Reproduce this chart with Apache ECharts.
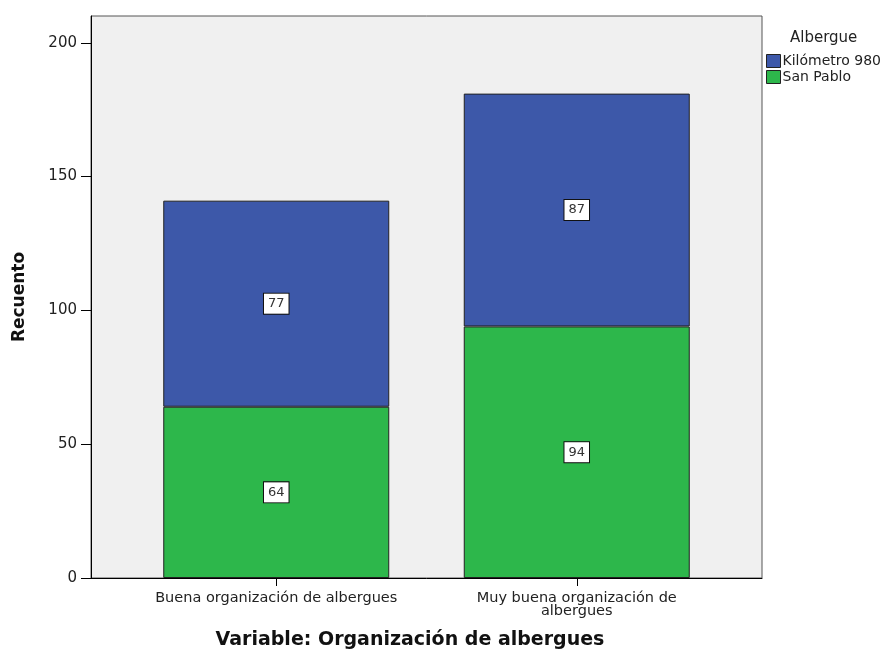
<!DOCTYPE html>
<html>
<head>
<meta charset="utf-8">
<script src="https://cdn.jsdelivr.net/npm/echarts@6/dist/echarts.min.js"></script>
<style>html,body{margin:0;padding:0;background:#fff;}#c{width:895px;height:650px;}</style>
</head>
<body>
<div id="c"></div>
<script>
var categories = ['Buena organización de albergues', 'Muy buena organización de\nalbergues'];
var seriesNames = ['Kilómetro 980', 'San Pablo'];
var sanPablo = [64, 94];
var kilometro = [77, 87];
var yTicks = [0, 50, 100, 150, 200];

var chart = echarts.init(document.getElementById('c'));
var font = 'DejaVu Sans, Verdana, sans-serif';
var labelStyle = {
  show: true, position: 'inside', backgroundColor: '#fff', borderColor: '#111', borderWidth: 1,
  padding: [4, 4, 3, 4], color: '#333', fontSize: 13, fontFamily: font
};
chart.setOption({
  animation: false,
  title: { text: 'Albergue', left: 785, top: 26, textStyle: { fontSize: 15, fontWeight: 'normal', color: '#222', fontFamily: font } },
  legend: {
    orient: 'vertical', left: 761, top: 49, itemWidth: 14, itemHeight: 13, itemGap: 2, icon: 'rect',
    data: seriesNames, textStyle: { fontSize: 14, color: '#222', fontFamily: font, padding: [0, 0, 0, -3] },
    itemStyle: { borderColor: '#222', borderWidth: 1 }
  },
  grid: [
    { left: 91, top: 16, width: 671, height: 562, show: true, backgroundColor: '#f0f0f0', borderColor: '#555', borderWidth: 1, outerBoundsMode: 'none', containLabel: false },
    { left: 126, top: 16, width: 601, height: 562, outerBoundsMode: 'none', containLabel: false }
  ],
  xAxis: [
    { gridIndex: 0, type: 'category', data: [''], axisLine: { lineStyle: { color: '#000' } }, axisTick: { show: false }, axisLabel: { show: false } },
    { gridIndex: 1, type: 'category', data: categories, axisLine: { show: false },
      axisTick: { show: true, interval: 0, alignWithLabel: true, length: 8, lineStyle: { color: '#000' } },
      axisLabel: { interval: 0, hideOverlap: false, fontSize: 14.5, color: '#222', fontFamily: font, margin: 14, lineHeight: 13 } }
  ],
  yAxis: [
    { gridIndex: 0, type: 'value', min: 0, max: 210, interval: 50,
      axisLine: { show: true, lineStyle: { color: '#000' } },
      axisTick: { show: true, length: 10, lineStyle: { color: '#000' } },
      axisLabel: { fontSize: 15, color: '#222', fontFamily: font, margin: 14, showMaxLabel: false,
        formatter: function (v) { return yTicks.indexOf(v) >= 0 ? String(v) : ''; } },
      splitLine: { show: false } },
    { gridIndex: 1, type: 'value', min: 0, max: 210, show: false, splitLine: { show: false } }
  ],
  graphic: [
    { type: 'text', x: 410, y: 640, style: { text: 'Variable: Organización de albergues', x: 0, y: 0, align: 'center', verticalAlign: 'middle',
      font: 'bold 19px "DejaVu Sans", sans-serif', fill: '#111' } },
    { type: 'text', x: 20, y: 297, rotation: Math.PI / 2, style: { text: 'Recuento', x: 0, y: 0, align: 'center', verticalAlign: 'middle',
      font: 'bold 17px "DejaVu Sans", sans-serif', fill: '#111' } }
  ],
  series: [
    { name: 'San Pablo', type: 'bar', stack: 'a', xAxisIndex: 1, yAxisIndex: 1, data: sanPablo, barWidth: 226,
      itemStyle: { color: '#2db74b', borderColor: '#222', borderWidth: 1 }, label: labelStyle },
    { name: 'Kilómetro 980', type: 'bar', stack: 'a', xAxisIndex: 1, yAxisIndex: 1, data: kilometro, barWidth: 226,
      itemStyle: { color: '#3d58a9', borderColor: '#222', borderWidth: 1 }, label: labelStyle }
  ]
});
</script>
</body>
</html>
